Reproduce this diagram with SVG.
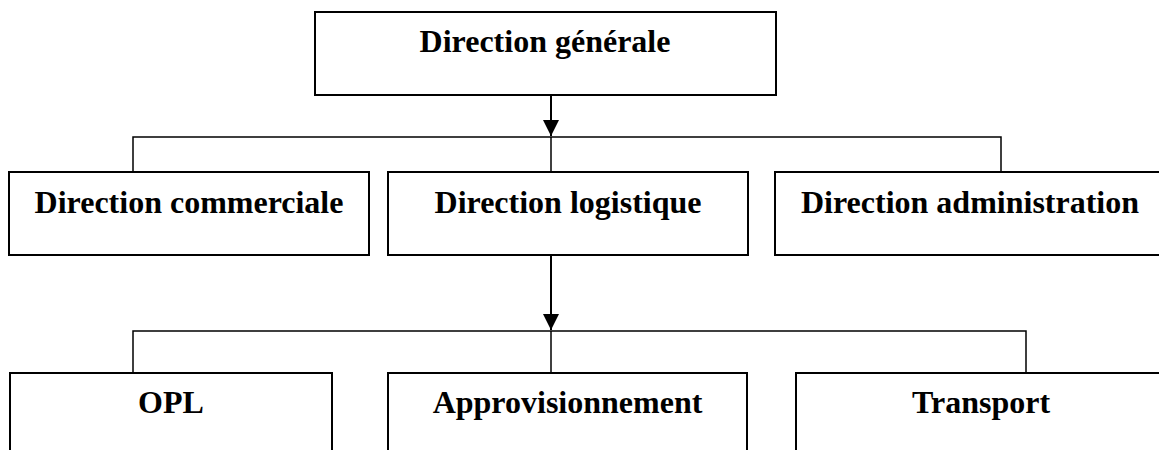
<svg xmlns="http://www.w3.org/2000/svg" width="1159" height="450" viewBox="0 0 1159 450">
<style>
.box{fill:#fff;stroke:#000;stroke-width:2}
.lbl{font-family:"Liberation Serif","Times New Roman",serif;font-weight:bold;font-size:32px;fill:#000;text-anchor:middle}
.conn{fill:none;stroke:#000;stroke-width:1.5}
.arr{fill:none;stroke:#000;stroke-width:2}
</style>
<defs>
<marker id="ah" markerUnits="userSpaceOnUse" markerWidth="16" markerHeight="16" viewBox="0 0 16 16" refX="16" refY="8" orient="auto">
<path d="M0,0 L16,8 L0,16 Z" fill="#000"/>
</marker>
</defs>
<rect width="1159" height="450" fill="#fff"/>
<g id="connectors">
<path class="arr" d="M551,95 V136" marker-end="url(#ah)"/>
<path class="conn" d="M133,172 V137 H1001 V172"/>
<path class="conn" d="M551,137 V172"/>
<path class="arr" d="M551,255 V330" marker-end="url(#ah)"/>
<path class="conn" d="M133,373 V331 H1026 V373"/>
<path class="conn" d="M551,331 V373"/>
</g>
<g id="n-generale">
<rect class="box" x="315" y="12" width="461" height="83"/>
<text class="lbl" x="545" y="52">Direction générale</text>
</g>
<g id="n-commerciale">
<rect class="box" x="9" y="172" width="360" height="83"/>
<text class="lbl" x="189" y="213">Direction commerciale</text>
</g>
<g id="n-logistique">
<rect class="box" x="388" y="172" width="360" height="83"/>
<text class="lbl" x="568" y="213">Direction logistique</text>
</g>
<g id="n-administration">
<rect class="box" x="775" y="172" width="400" height="83"/>
<text class="lbl" x="970" y="213">Direction administration</text>
</g>
<g id="n-opl">
<rect class="box" x="10" y="373" width="322" height="100"/>
<text class="lbl" x="171" y="413">OPL</text>
</g>
<g id="n-approvisionnement">
<rect class="box" x="388" y="373" width="359" height="100"/>
<text class="lbl" x="567.5" y="413">Approvisionnement</text>
</g>
<g id="n-transport">
<rect class="box" x="796" y="373" width="380" height="100"/>
<text class="lbl" x="981" y="413">Transport</text>
</g>
</svg>
